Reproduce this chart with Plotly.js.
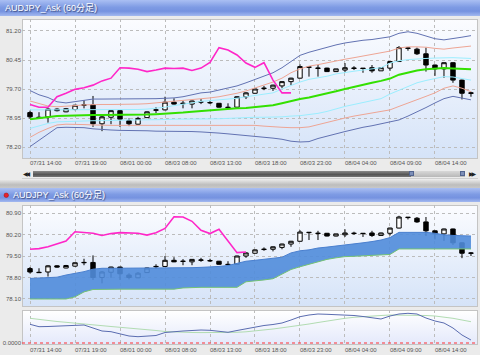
<!DOCTYPE html>
<html><head><meta charset="utf-8">
<script src="https://cdn.plot.ly/plotly-3.0.1.min.js"></script>
<style>
html,body{margin:0;padding:0;background:#ebebeb;}
#wrap{position:relative;width:480px;height:355px;overflow:hidden;background:#ebebeb;}
.a{position:absolute;}
#bar1{left:0;top:0;width:480px;height:16px;background:linear-gradient(#aabff3,#7e9be4 45%,#7592e0 70%,#a3b9f0);}
#bar2{left:0;top:188px;width:480px;height:14px;background:linear-gradient(#aabff3,#7e9be4 45%,#7592e0 70%,#a3b9f0);}
#sep{left:0;top:180px;width:480px;height:8px;background:linear-gradient(#e6e6e6,#bdbdbd 60%,#c8c8c8);}
.pbg{background:linear-gradient(#fbfcff,#d5e3f8);border:1px solid #c4c4c4;box-sizing:border-box;}
#p1{left:22px;top:19px;width:456px;height:140px;}
#p2{left:22px;top:205px;width:456px;height:102px;}
#p3{left:22px;top:310px;width:456px;height:35px;background:linear-gradient(#ffffff,#e4e9fb);}
#trk{left:33px;top:171px;width:378px;height:6px;background:linear-gradient(#8a8a8a,#555 60%,#777);}
#trk2{left:411px;top:171px;width:54px;height:6px;background:linear-gradient(#d8d8d8,#b8b8b8);}
.th{width:5px;height:5px;top:171px;background:#7d8fb8;border:1px solid #52648f;box-sizing:border-box;}
.arr{top:171px;width:9px;height:6px;font:6px/6px "DejaVu Sans";color:#222;letter-spacing:-2px;}
#line2{left:22px;top:178px;width:456px;height:1px;background:#d0d0d0;}
#chart{position:absolute;left:0;top:0;width:480px;height:355px;}
</style></head>
<body><div id="wrap">
<div class="a" id="bar1"></div>
<div class="a" id="sep"></div>
<div class="a" id="bar2"></div>
<div class="a pbg" id="p1"></div>
<div class="a pbg" id="p2"></div>
<div class="a pbg" id="p3"></div>
<div class="a" id="trk"></div>
<div class="a" id="trk2"></div>
<div class="a th" style="left:409px"></div>
<div class="a th" style="left:460px"></div>
<div class="a arr" style="left:23px">◀◀</div>
<div class="a arr" style="left:469px">▶▶</div>
<div class="a" id="line2"></div>
<div id="chart"></div>
</div>
<script>
// ---- data ----
const titleText = 'AUDJPY_Ask (60分足)';
const tickIdx = [0, 5, 10, 15, 20, 25, 30, 35, 40, 45];
const tickLabels = ['07/31 14:00','07/31 19:00','08/01 00:00','08/03 08:00','08/03 13:00','08/03 18:00','08/03 23:00','08/04 04:00','08/04 09:00','08/04 14:00'];

const openP  = [79.09,78.97,78.98,79.18,79.11,79.17,79.28,79.29,78.80,78.97,79.14,78.88,78.79,78.96,79.15,79.16,79.36,79.32,79.31,79.36,79.34,79.33,79.23,79.23,79.50,79.59,79.71,79.72,79.78,79.89,79.98,80.26,80.23,80.24,80.15,80.19,80.23,80.24,80.25,80.17,80.24,80.41,80.75,80.73,80.61,80.32,80.22,80.38,79.93,79.60];
const highP  = [79.14,79.10,79.20,79.20,79.21,79.29,79.41,79.52,79.01,79.15,79.15,78.94,78.98,79.12,79.23,79.50,79.46,79.40,79.40,79.44,79.41,79.34,79.33,79.51,79.62,79.71,79.78,79.81,79.90,79.99,80.34,80.28,80.32,80.25,80.22,80.37,80.29,80.24,80.32,80.26,80.42,80.81,80.77,80.77,80.77,80.33,80.39,80.39,79.94,79.63];
const lowP   = [78.93,78.95,78.83,79.12,79.10,79.15,79.20,78.72,78.61,78.79,78.72,78.74,78.78,78.95,79.08,79.15,79.30,79.20,79.20,79.31,79.31,79.22,79.22,79.22,79.44,79.58,79.67,79.65,79.72,79.80,79.97,80.02,80.02,80.14,80.14,80.12,80.19,80.12,80.12,80.17,80.17,80.40,80.69,80.58,80.15,80.04,79.99,79.86,79.43,79.50];
const closeP = [78.98,78.96,79.18,79.14,79.19,79.28,79.29,78.80,78.98,79.14,78.92,78.80,78.94,79.11,79.16,79.36,79.31,79.33,79.39,79.37,79.35,79.23,79.22,79.50,79.60,79.70,79.72,79.80,79.89,79.98,80.28,80.27,80.24,80.15,80.22,80.25,80.24,80.23,80.17,80.25,80.41,80.77,80.76,80.61,80.32,80.22,80.38,79.93,79.59,79.59];

// Bollinger-style bands (top panel)
const bandMid   = [78.92,78.95,78.98,79.00,79.01,79.02,79.03,79.03,79.03,79.03,79.03,79.03,79.03,79.04,79.05,79.06,79.08,79.09,79.11,79.13,79.15,79.16,79.18,79.20,79.21,79.23,79.25,79.28,79.33,79.39,79.44,79.48,79.53,79.58,79.64,79.70,79.76,79.81,79.86,79.91,79.97,80.07,80.13,80.18,80.21,80.23,80.24,80.23,80.22,80.21];
const band1Up   = [79.16,79.16,79.16,79.16,79.17,79.17,79.17,79.17,79.17,79.17,79.17,79.17,79.17,79.18,79.20,79.23,79.27,79.31,79.35,79.38,79.40,79.42,79.44,79.46,79.50,79.53,79.56,79.60,79.70,79.80,79.88,79.95,79.99,80.03,80.09,80.13,80.16,80.19,80.22,80.25,80.37,80.43,80.46,80.48,80.49,80.50,80.51,80.51,80.50,80.49];
const band1Lo   = [78.68,78.75,78.81,78.85,78.86,78.87,78.87,78.88,78.88,78.89,78.89,78.90,78.90,78.90,78.91,78.91,78.92,78.92,78.92,78.92,78.93,78.93,78.94,78.95,78.97,78.97,78.97,78.97,78.98,79.00,79.01,79.04,79.07,79.12,79.19,79.25,79.30,79.35,79.40,79.45,79.57,79.67,79.78,79.86,79.92,79.97,80.02,80.01,79.97,79.93];
const band2Up   = [79.39,79.32,79.26,79.24,79.25,79.27,79.29,79.30,79.30,79.30,79.30,79.30,79.31,79.32,79.34,79.36,79.38,79.40,79.42,79.44,79.47,79.50,79.54,79.59,79.65,79.72,79.80,79.88,79.98,80.12,80.22,80.29,80.33,80.38,80.43,80.47,80.51,80.55,80.59,80.63,80.68,80.76,80.79,80.79,80.78,80.75,80.73,80.76,80.79,80.81];
const band2Lo   = [78.45,78.58,78.68,78.77,78.79,78.79,78.78,78.77,78.76,78.76,78.76,78.76,78.76,78.76,78.76,78.76,78.77,78.77,78.77,78.77,78.77,78.77,78.77,78.77,78.77,78.76,78.74,78.72,78.71,78.70,78.70,78.72,78.78,78.84,78.90,78.95,79.00,79.04,79.08,79.12,79.16,79.25,79.33,79.42,79.51,79.60,79.72,79.78,79.72,79.63];
const band3Up   = [79.66,79.55,79.48,79.37,79.34,79.37,79.41,79.44,79.44,79.44,79.44,79.44,79.44,79.44,79.45,79.46,79.47,79.50,79.56,79.60,79.62,79.67,79.72,79.78,79.86,79.95,80.05,80.12,80.25,80.42,80.57,80.65,80.72,80.78,80.84,80.89,80.93,80.96,80.98,81.01,81.05,81.14,81.18,81.14,81.06,81.00,80.97,81.00,81.04,81.08];
const band3Lo   = [78.21,78.38,78.55,78.70,78.71,78.71,78.70,78.67,78.65,78.64,78.63,78.63,78.63,78.62,78.61,78.61,78.61,78.60,78.60,78.59,78.58,78.56,78.54,78.52,78.50,78.47,78.45,78.43,78.40,78.35,78.33,78.34,78.42,78.49,78.54,78.60,78.66,78.71,78.75,78.80,78.84,78.90,79.00,79.10,79.22,79.34,79.45,79.51,79.47,79.42];
const lagTop    = [79.30,79.23,79.23,79.50,79.59,79.69,79.73,79.80,79.91,79.98,80.25,80.24,80.21,80.15,80.19,80.24,80.23,80.24,80.18,80.24,80.39,80.77,80.71,80.58,80.37,80.26,80.38,79.93,79.60,79.60];

// Ichimoku (middle panel)
const cloudTop  = [78.77,78.78,78.79,78.81,78.88,78.93,78.99,79.07,79.10,79.10,79.10,79.10,79.10,79.10,79.10,79.10,79.11,79.11,79.12,79.13,79.14,79.16,79.19,79.25,79.33,79.36,79.39,79.42,79.46,79.60,79.67,79.70,79.76,79.79,79.82,79.85,79.89,79.93,79.97,80.02,80.10,80.27,80.27,80.27,80.27,80.24,80.19,80.17,80.16,80.15];
const cloudBot  = [78.10,78.10,78.10,78.10,78.10,78.17,78.33,78.41,78.42,78.42,78.42,78.42,78.42,78.42,78.42,78.42,78.42,78.46,78.48,78.48,78.48,78.48,78.48,78.48,78.66,78.68,78.72,78.76,78.92,79.06,79.15,79.23,79.31,79.39,79.44,79.48,79.49,79.50,79.51,79.52,79.55,79.73,79.73,79.73,79.73,79.73,79.73,79.73,79.73,79.73];
const lagMid    = [79.72,79.74,79.80,79.89,79.99,80.29,80.27,80.24,80.17,80.23,80.26,80.24,80.24,80.18,80.26,80.40,80.78,80.77,80.63,80.34,80.23,80.37,79.97,79.61,79.63];

// Oscillator (bottom panel)
const oscMain   = [0.187,0.163,0.165,0.170,0.175,0.180,0.180,0.150,0.120,0.113,0.090,0.070,0.063,0.067,0.075,0.105,0.115,0.120,0.125,0.130,0.127,0.115,0.107,0.125,0.142,0.160,0.175,0.185,0.200,0.230,0.263,0.280,0.290,0.287,0.285,0.280,0.275,0.265,0.250,0.240,0.270,0.290,0.297,0.290,0.250,0.220,0.200,0.150,0.080,0.030];
const oscSignal = [0.247,0.235,0.225,0.215,0.207,0.200,0.192,0.182,0.175,0.165,0.157,0.150,0.145,0.135,0.125,0.115,0.110,0.107,0.105,0.104,0.103,0.103,0.104,0.107,0.112,0.120,0.130,0.140,0.152,0.163,0.175,0.190,0.205,0.220,0.235,0.247,0.257,0.265,0.270,0.275,0.280,0.280,0.280,0.280,0.275,0.270,0.260,0.247,0.230,0.213];

// ---- chart ----
const xi = a => a.map((_, i) => i);
const FONT = '"Liberation Sans", Arial, "Noto Sans CJK JP", sans-serif';
const line = (y, color, width, xa, ya) => ({type:'scatter', mode:'lines', x:xi(y), y:y, xaxis:xa, yaxis:ya,
  line:{color:color, width:width}, hoverinfo:'skip'});
const candle = (xa, ya) => ({type:'candlestick', x:xi(openP), open:openP, high:highP, low:lowP, close:closeP,
  xaxis:xa, yaxis:ya, whiskerwidth:0,
  increasing:{line:{color:'#000', width:1}, fillcolor:'#ffffff'},
  decreasing:{line:{color:'#000', width:1}, fillcolor:'#000000'}, hoverinfo:'skip'});

const traces = [
  line(band3Up, '#6272b2', 1, 'x', 'y'),
  line(band3Lo, '#6272b2', 1, 'x', 'y'),
  line(band2Up, '#eea594', 1, 'x', 'y'),
  line(band2Lo, '#eea594', 1, 'x', 'y'),
  line(band1Up, '#9beeff', 1, 'x', 'y'),
  line(band1Lo, '#9beeff', 1, 'x', 'y'),
  line(bandMid, '#33e000', 2, 'x', 'y'),
  candle('x', 'y'),
  line(lagTop, '#ff26c8', 1.6, 'x', 'y'),
  line(cloudBot, '#74c274', 1, 'x2', 'y2'),
  Object.assign(line(cloudTop, '#4a80cf', 1, 'x2', 'y2'), {fill:'tonexty', fillcolor:'rgba(80,140,218,0.9)'}),
  candle('x2', 'y2'),
  line(lagMid, '#ff26c8', 1.6, 'x2', 'y2'),
  line(oscSignal, '#b2dcb2', 1, 'x3', 'y3'),
  line(oscMain, '#5a6cb0', 1, 'x3', 'y3')
];

const XD = [22/480, 478/480];
const XR = [-0.89, 49.78];
const tickFont = {family:FONT, size:6, color:'#555'};
const xbase = {domain:XD, range:XR, tickvals:tickIdx, ticktext:tickLabels, showgrid:true,
  gridcolor:'#bcbcbc', griddash:'dot', gridwidth:1, ticks:'', zeroline:false, showline:false,
  ticklabelposition:'outside right', tickfont:tickFont, rangeslider:{visible:false}, fixedrange:true};
const ybase = {showgrid:true, gridcolor:'#bcbcbc', griddash:'dot', gridwidth:1, ticks:'', zeroline:false,
  showline:false, tickfont:tickFont, tickformat:'.2f', fixedrange:true};

const layout = {
  width:480, height:355, margin:{l:0, r:0, t:0, b:0},
  paper_bgcolor:'rgba(0,0,0,0)', plot_bgcolor:'rgba(0,0,0,0)', showlegend:false,
  font:{family:FONT},
  xaxis: Object.assign({}, xbase, {anchor:'y'}),
  yaxis: Object.assign({}, ybase, {domain:[197/355, 336/355], range:[77.916, 81.510], tick0:78.20, dtick:0.75, anchor:'x'}),
  xaxis2: Object.assign({}, xbase, {anchor:'y2', showticklabels:false}),
  yaxis2: Object.assign({}, ybase, {domain:[48/355, 150/355], range:[77.839, 81.161], tick0:78.10, dtick:0.70, anchor:'x2'}),
  xaxis3: Object.assign({}, xbase, {anchor:'y3'}),
  yaxis3: Object.assign({}, ybase, {domain:[10/355, 45/355], range:[-0.02, 0.33], tickvals:[0], tickformat:'.4f', showgrid:false, anchor:'x3'}),
  shapes:[
    {type:'line', xref:'x3 domain', x0:0, x1:1, yref:'y3', y0:0, y1:0, line:{color:'#ff3030', width:1, dash:'dot'}},
    {type:'circle', xref:'paper', yref:'paper', x0:4/480, x1:8.5/480, y0:(355-197.5)/355, y1:(355-193)/355,
      fillcolor:'#e8202a', line:{color:'#a01010', width:0.5}}
  ],
  annotations:[
    {text:titleText, xref:'paper', yref:'paper', x:3/480, y:(355-8)/355, xanchor:'left', yanchor:'middle', showarrow:false,
      font:{family:FONT, size:9, color:'#ffffff', shadow:'1px 1px 1px #3c4a78'}},
    {text:titleText, xref:'paper', yref:'paper', x:11/480, y:(355-195)/355, xanchor:'left', yanchor:'middle', showarrow:false,
      font:{family:FONT, size:9, color:'#ffffff', shadow:'1px 1px 1px #3c4a78'}}
  ]
};

Plotly.newPlot('chart', traces, layout, {staticPlot:true, displayModeBar:false});
</script>
</body></html>
